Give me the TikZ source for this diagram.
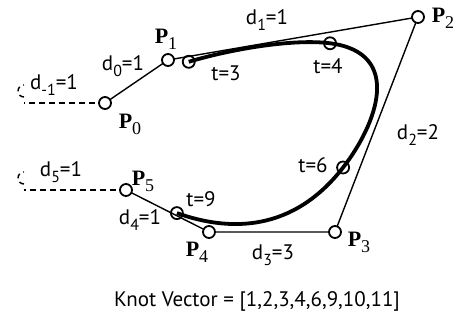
\documentclass[tikz,border=0pt]{standalone}
\usepackage{fontspec}
\newfontfamily\labfont{PT Sans}
\newfontfamily\pfont{Liberation Serif}
\newcommand{\dsub}[1]{\raisebox{-6pt}{\fontsize{16}{16}\selectfont #1}}
\newcommand{\psub}[1]{\raisebox{-6pt}{\mdseries\fontsize{18}{18}\selectfont #1}}
\begin{document}
\begin{tikzpicture}[x=1pt,y=-1pt,
  ctrl/.style={circle,draw,line width=1.8pt,fill=white,minimum size=12pt,inner sep=0pt},
  knotpt/.style={circle,draw,line width=1.8pt,minimum size=12pt,inner sep=0pt},
  poly/.style={line width=1.4pt},
  dlab/.style={font=\labfont\fontsize{21}{21}\selectfont,inner sep=0pt},
  plab/.style={font=\pfont\bfseries\fontsize{22}{22}\selectfont,inner sep=0pt},
  curve/.style={line width=3.8pt}]
\useasboundingbox (0,0) rectangle (456,324);
% coordinates
\coordinate (p0) at (105,103);
\coordinate (p1) at (168,60);
\coordinate (p2) at (418,17);
\coordinate (p3) at (335,232);
\coordinate (p4) at (209,232);
\coordinate (p5) at (126,190);
\coordinate (e0) at (24,103);
\coordinate (e5) at (24,190);
% dashed extensions
\draw[poly,dash pattern=on 6pt off 4pt] (p0) -- (e0);
\draw[poly,dash pattern=on 6pt off 4pt] (p5) -- (e5);
\draw[poly,dash pattern=on 5pt off 4pt] (e0) ++(0,-6) arc (90:270:6);
\draw[poly,dash pattern=on 5pt off 4pt] (e5) ++(0,-6) arc (90:270:6);
% control polygon
\draw[poly] (p0) -- (p1) -- (p2) -- (p3) -- (p4) -- (p5);
% curve
\draw[curve] (188.75,61.8) .. controls (230.5,49.25) and (293,38.5) .. (330.06,43.28)
  .. controls (404.17,52.83) and (376.5,124.5) .. (343.1,167.5)
  .. controls (293,232) and (230,232) .. (176.9,213.1);
% knot points
\node[knotpt] (t3) at (188.75,61.8) {};
\node[knotpt] (t4) at (330.06,43.28) {};
\node[knotpt] (t6) at (343.1,167.5) {};
\node[knotpt] (t9) at (176.9,213.1) {};
% control points
\node[ctrl] (P0) at (p0) {};
\node[ctrl] (P1) at (p1) {};
\node[ctrl] (P2) at (p2) {};
\node[ctrl] (P3) at (p3) {};
\node[ctrl] (P4) at (p4) {};
\node[ctrl] (P5) at (p5) {};
% P labels
\node[plab] (lP0) at (130,124) {P\psub{0}};
\node[plab] (lP1) at (166,39) {P\psub{1}};
\node[plab] (lP2) at (443,18) {P\psub{2}};
\node[plab] (lP3) at (359,242) {P\psub{3}};
\node[plab] (lP4) at (197,252) {P\psub{4}};
\node[plab] (lP5) at (143,181) {P\psub{5}};
% d labels
\node[dlab] (dm1) at (54,85) {d\dsub{-1}=1};
\node[dlab] (d0) at (123,66) {d\dsub{0}=1};
\node[dlab] (d1) at (267,20) {d\dsub{1}=1};
\node[dlab] (d2) at (418,135) {d\dsub{2}=2};
\node[dlab] (d3) at (273,255) {d\dsub{3}=3};
\node[dlab] (d4) at (140,220) {d\dsub{4}=1};
\node[dlab] (d5) at (61,172) {d\dsub{5}=1};
% t labels
\node[dlab] (l3) at (226,73) {t=3};
\node[dlab] (l4) at (328,66) {t=4};
\node[dlab] (l6) at (313,165) {t=6};
\node[dlab] (l9) at (201,199) {t=9};
% knot vector
\node[dlab] (kv) at (257,301) {Knot Vector = [1,2,3,4,6,9,10,11]};
\end{tikzpicture}
\end{document}
